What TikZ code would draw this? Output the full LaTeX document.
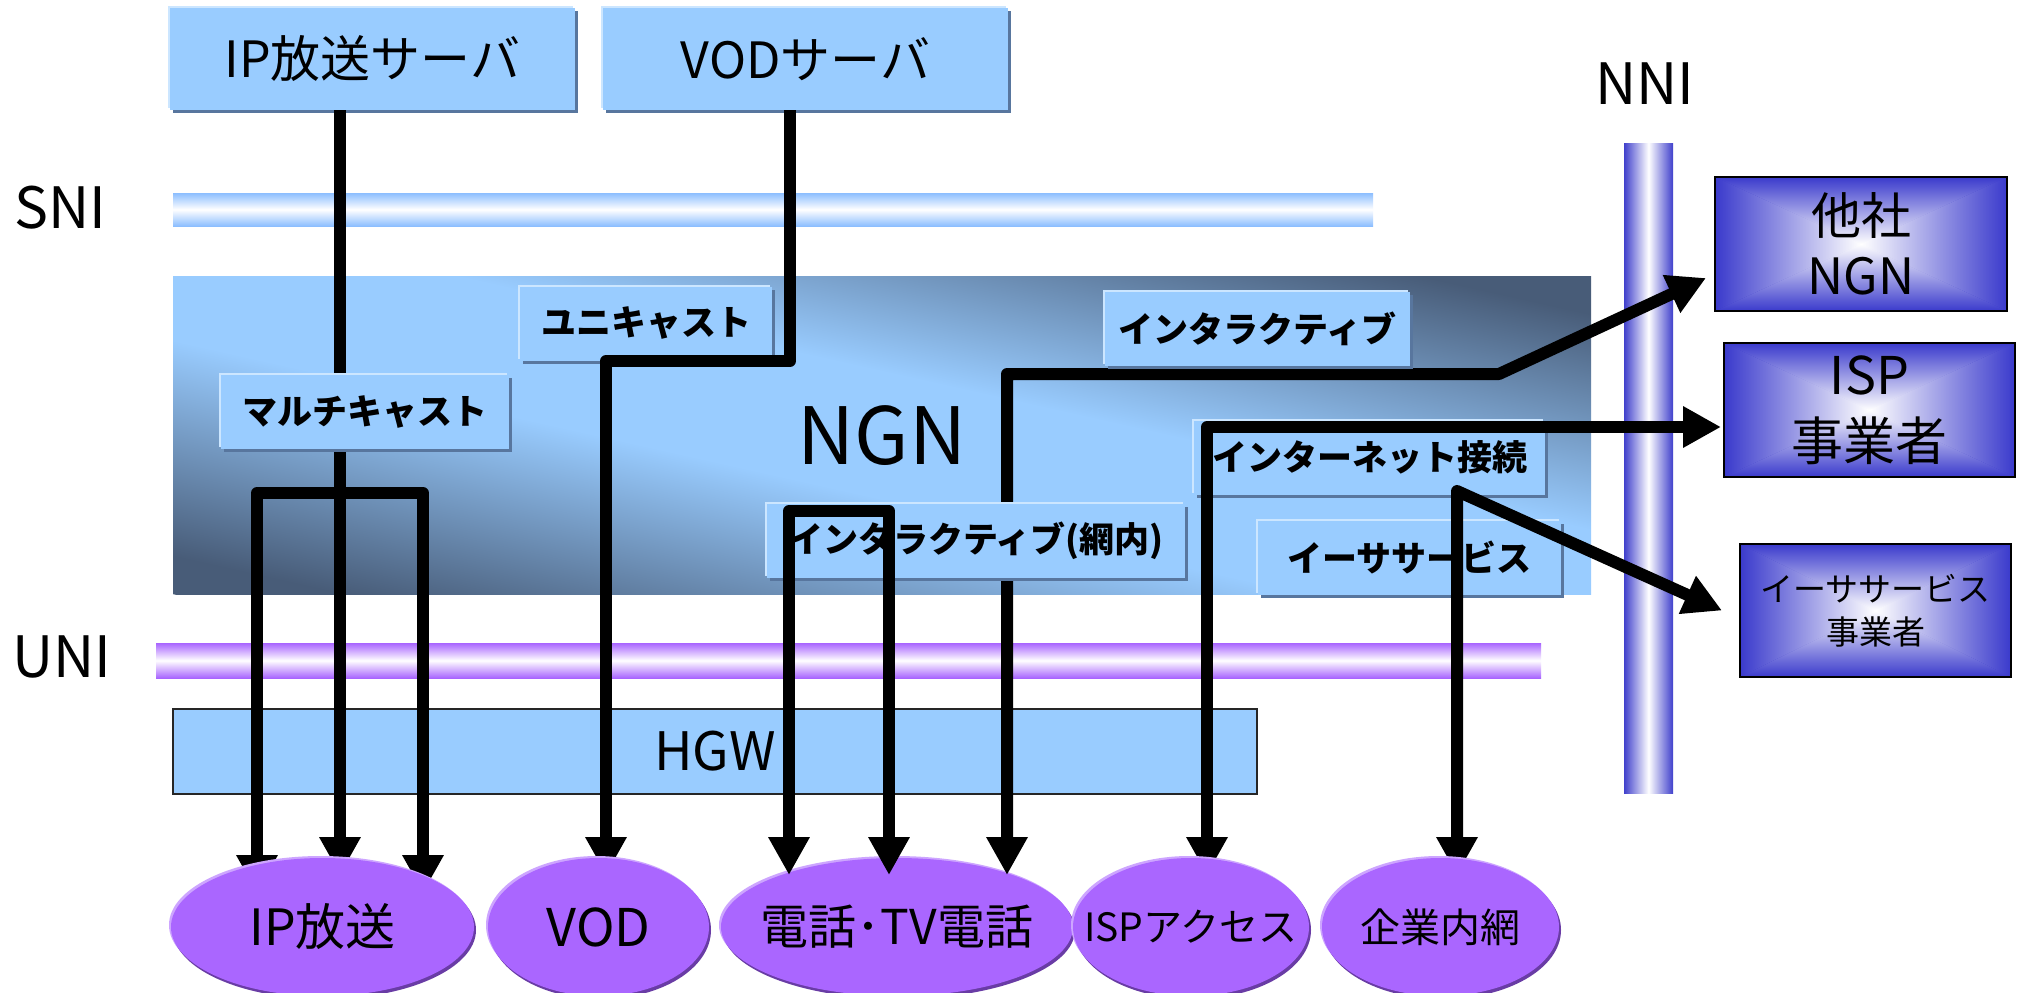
\documentclass[tikz,border=0pt]{standalone}
\usepackage{fontspec}
\setmainfont{Noto Sans CJK JP}
\usetikzlibrary{arrows.meta,calc,shadows,shapes.geometric}

\definecolor{boxblue}{RGB}{153,204,255}
\definecolor{boxhi}{RGB}{204,230,255}
\definecolor{boxsh}{RGB}{88,118,158}
\definecolor{ngndark}{RGB}{72,92,120}
\definecolor{snicol}{RGB}{140,190,255}
\definecolor{unicol}{RGB}{168,100,255}
\definecolor{nnicol}{RGB}{64,64,204}
\definecolor{opcol}{RGB}{58,58,204}
\definecolor{ellcol}{RGB}{170,102,255}
\definecolor{ellhi}{RGB}{205,165,255}
\definecolor{ellsh}{RGB}{105,60,165}

\pgfdeclareverticalshading{ngnshade}{100bp}{color(0bp)=(ngndark); color(28bp)=(ngndark); color(45bp)=(boxblue); color(55bp)=(boxblue); color(72bp)=(ngndark); color(100bp)=(ngndark)}

\newcommand\opshade{%
  \shade[inner color=white, outer color=opcol] (path picture bounding box.north west) rectangle (path picture bounding box.south east);
  \shade[top color=opcol, bottom color=white] (path picture bounding box.north west) -- (path picture bounding box.north east) -- (path picture bounding box.center) -- cycle;
  \shade[top color=white, bottom color=opcol] (path picture bounding box.south west) -- (path picture bounding box.south east) -- (path picture bounding box.center) -- cycle;
  \shade[left color=opcol, right color=white] (path picture bounding box.north west) -- (path picture bounding box.south west) -- (path picture bounding box.center) -- cycle;
  \shade[left color=white, right color=opcol] (path picture bounding box.north east) -- (path picture bounding box.south east) -- (path picture bounding box.center) -- cycle;
}

\tikzset{
  lbl/.style={fill=boxblue, inner sep=0pt, general shadow={fill=boxhi, shadow xshift=-2pt, shadow yshift=2pt}, general shadow={fill=boxsh, shadow xshift=3pt, shadow yshift=-3pt}},
  srv/.style={lbl, minimum width=405pt, minimum height=102pt, font=\fontsize{50}{56}\selectfont},
  svc/.style={lbl, minimum height=74pt, font=\bfseries\fontsize{35}{40}\selectfont},
  term/.style={ellipse, fill=ellcol, inner sep=0pt, minimum height=138pt, general shadow={fill=ellhi, shadow xshift=-2pt, shadow yshift=2pt}, general shadow={fill=ellsh, shadow xshift=2pt, shadow yshift=-3pt}},
  opbox/.style={draw=black, line width=2pt, inner sep=0pt, align=center, path picture={\opshade}},
  side/.style={font=\fontsize{57}{60}\selectfont},
  conn/.style={line width=12pt, line join=round}
}

\begin{document}
\begin{tikzpicture}[x=1pt, y=-1pt, >={Triangle[length=38pt,width=39pt]}]
\fill[white] (0,0) rectangle (2022,993);
\useasboundingbox (0,0) rectangle (2022,993);

% interfaces
\shade[top color=snicol, bottom color=snicol, middle color=white] (173,193) rectangle (1373,226);
\shade[top color=unicol, bottom color=unicol, middle color=white] (156,643) rectangle (1541,678);
\shade[left color=nnicol, right color=nnicol, middle color=white] (1624,143) rectangle (1673,793);
\node[side] (sni) at (60,208) {SNI};
\node[side] (uni) at (62,657) {UNI};
\node[side] (nni) at (1645,84) {NNI};

% NGN
\begin{scope}
  \clip (173,276) rectangle (1591,594);
  \shade[shading=ngnshade, transform canvas={shift={(882,435)}, rotate=-12.6}] (-800,-310) rectangle (800,310);
\end{scope}
\node[font=\fontsize{79}{80}\selectfont] (ngn) at (882,436) {NGN};

\node[draw=black!85, line width=1.5pt, fill=boxblue, minimum width=1084pt, minimum height=85pt, inner sep=0pt, font=\fontsize{53}{56}\selectfont] (hgw) at (715,751.5) {HGW};

% servers and other carriers
\node[srv] (ipsrv) at (372.5,59) {IP放送サーバ};
\node[srv] (vodsrv) at (805.5,59) {VODサーバ};
\node[opbox, minimum width=292pt, minimum height=134pt, font=\fontsize{50}{60}\selectfont] (other) at (1861,244) {他社\\NGN};
\node[opbox, minimum width=291pt, minimum height=134pt, font=\fontsize{52}{66}\selectfont] (isp) at (1869.5,410) {ISP\\事業者};
\node[opbox, minimum width=271pt, minimum height=133pt, font=\fontsize{33}{43}\selectfont] (esp) at (1875.5,610.5) {イーササービス\\事業者};

\node[term, minimum width=352pt, label={[font=\fontsize{48}{50}\selectfont]center:電話･TV電話}] (tel) at (897,927) {};

\foreach \n/\x/\y in {ta/257/893, tb/340/875, tc/423/893, td/606/875, te/789/875, tf/889/875, tg/1007/875, th/1207/875, ti/1457/875}
  \coordinate (\n) at (\x,\y);
\coordinate (mj) at (340,493);
\coordinate (uj) at (790,361);
\coordinate (ib) at (1499,374);
\coordinate (cj) at (1457,491);

% multicast, interactive
\draw[conn,->] (ipsrv.south -| tb) -- (tb);
\draw[conn,->] (mj) -| (ta);
\draw[conn,->] (mj) -| (tc);
\draw[conn,<->] (tg) |- (ib) -- ($(other.south west)+(-8,-34)$);

% services
\node[svc, minimum width=288pt] (mcast) at (365,412) {マルチキャスト};
\node[svc, minimum width=252pt] (ucast) at (646,323.5) {ユニキャスト};
\node[svc, minimum width=305pt] (inter) at (1257.5,328.5) {インタラクティブ};
\node[svc, minimum width=351pt] (inet) at (1369.5,457.5) {インターネット接続};
\node[svc, minimum width=303pt] (esvc) at (1409.5,557.5) {イーササービス};
\node[svc, minimum width=418pt] (inner) at (976,540.5) {インタラクティブ(網内)};

% unicast, in-network, internet, ethernet
\draw[conn,->] (vodsrv.south -| uj) -- (uj) -| (td);
\draw[conn,<->] (te) -- (te |- 0,511) -| (tf);
\draw[conn,<->] (th) |- ($(isp.west)+(-2,17)$);
\draw[conn,<->] (ti) -- (cj) -- ($(esp.west)+(-17,0)$);

% terminals
\node[term, minimum width=303pt, label={[font=\fontsize{50}{54}\selectfont]center:IP放送}] (ipb) at (322.5,927) {};
\node[term, minimum width=221pt, label={[font=\fontsize{52}{54}\selectfont]center:VOD}] (vod) at (598.5,927) {};
\node[term, minimum width=236pt, label={[font=\fontsize{39}{42}\selectfont]center:ISPアクセス}] (ispa) at (1191,927) {};
\node[term, minimum width=237pt, label={[font=\fontsize{40}{42}\selectfont]center:企業内網}] (corp) at (1440.5,927) {};
\end{tikzpicture}
\end{document}
